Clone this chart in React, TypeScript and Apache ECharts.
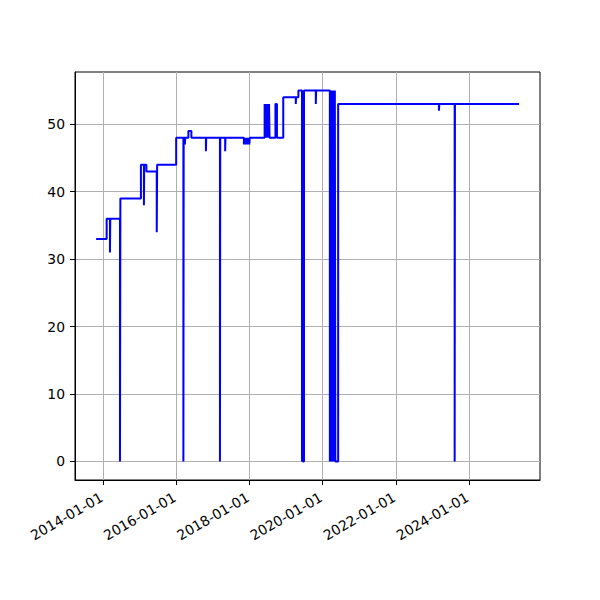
import React, { useEffect, useRef } from "react";
import * as echarts from "echarts";

// change points of the series (value holds until the next date)
const dates: string[] = [
  "2013-10-22", "2014-02-04", "2014-03-09", "2014-03-12", "2014-06-17", "2014-06-21",
  "2015-01-12", "2015-02-11", "2015-02-14", "2015-03-08", "2015-06-19", "2015-06-23",
  "2015-12-30", "2016-03-11", "2016-03-14", "2016-03-26", "2016-03-29", "2016-04-30",
  "2016-05-30", "2016-10-22", "2016-10-25", "2017-03-11", "2017-03-14", "2017-05-02",
  "2017-05-05",
  "2017-11-05", "2017-11-10", "2017-11-14", "2017-11-19", "2017-11-23", "2017-11-28",
  "2017-12-02", "2017-12-07", "2017-12-11", "2017-12-16", "2017-12-20", "2017-12-25",
  "2017-12-29", "2018-01-03",
  "2018-05-31", "2018-06-04", "2018-06-08", "2018-06-13", "2018-06-17", "2018-06-22",
  "2018-06-26", "2018-07-01", "2018-07-05", "2018-07-10", "2018-07-14", "2018-07-19",
  "2018-09-16", "2018-10-01", "2018-12-03", "2019-04-07", "2019-04-10", "2019-05-03",
  "2019-06-08", "2019-06-12", "2019-06-16", "2019-06-28", "2019-10-24", "2019-10-27",
  "2020-03-12", "2020-03-16", "2020-03-21", "2020-03-25", "2020-03-30", "2020-04-04",
  "2020-04-09", "2020-04-13", "2020-04-18", "2020-04-22", "2020-04-27", "2020-05-01",
  "2020-05-06", "2020-06-03", "2023-03-06", "2023-03-10", "2023-08-10", "2023-08-13",
  "2025-05-14",
];
const values: number[] = [
  33, 36, 31, 36, 0, 39,
  44, 38, 44, 43, 34, 44,
  48, 0, 48, 47, 48, 49,
  48, 46, 48, 0, 48, 46,
  48,
  47, 48, 47, 48, 47, 48,
  47, 48, 47, 48, 47, 48,
  47, 48,
  53, 48, 53, 48, 53, 48,
  53, 48, 53, 48, 53, 48,
  53, 48, 54, 53, 54, 55,
  0, 55, 0, 55, 53, 55,
  0, 55, 0, 55, 0, 55,
  0, 55, 0, 55, 0, 55,
  0, 53, 52, 53, 0, 53,
  53,
];

const xTickLabels: string[] = [
  "2014-01-01", "2016-01-01", "2018-01-01", "2020-01-01", "2022-01-01", "2024-01-01",
];
const yTickValues: number[] = [0, 10, 20, 30, 40, 50];

const DAY = 86400000;
const YEAR = 365.25 * DAY;
const BASE = Date.UTC(2014, 0, 1);
const toYears = (s: string) => {
  const [y, m, d] = s.split("-").map(Number);
  return (Date.UTC(y, m - 1, d) - BASE) / YEAR;
};

export default function App() {
  const ref = useRef<HTMLDivElement>(null);
  useEffect(() => {
    if (!ref.current) return;
    const chart = echarts.init(ref.current, undefined, { renderer: "svg" });
    const data = dates.map((d, i) => [toYears(d), values[i]]);
    const xTickValues = xTickLabels.map((l) => toYears(l));
    const font = { fontFamily: "DejaVu Sans", fontSize: 13.9, color: "#000" };
    chart.setOption({
      animation: false,
      backgroundColor: "#fff",
      grid: {
        left: 75,
        right: 60,
        top: 72,
        bottom: 120,
        show: true,
        borderColor: "#000",
        borderWidth: 1,
        containLabel: false,
        outerBoundsMode: "none",
      },
      xAxis: {
        type: "value",
        min: -282 / 365.25,
        max: 4360 / 365.25,
        splitNumber: 6,
        axisLine: { show: true, onZero: false, lineStyle: { color: "#000", width: 1 } },
        axisTick: {
          show: true,
          length: 5,
          customValues: xTickValues,
          lineStyle: { color: "#000", width: 1 },
        },
        axisLabel: {
          ...font,
          rotate: 30,
          margin: 15,
          padding: [0, 2, 0, 0],
          customValues: xTickValues,
          formatter: (v: number) => {
            const i = xTickValues.findIndex((t) => Math.abs(t - v) < 1e-6);
            return i >= 0 ? xTickLabels[i] : "";
          },
        },
        splitLine: { show: true, lineStyle: { color: "#b0b0b0", width: 1 } },
      },
      yAxis: {
        type: "value",
        min: -2.75,
        max: 57.75,
        splitNumber: 6,
        axisLine: { show: true, onZero: false, lineStyle: { color: "#000", width: 1 } },
        axisTick: {
          show: true,
          length: 5,
          customValues: yTickValues,
          lineStyle: { color: "#000", width: 1 },
        },
        axisLabel: {
          ...font,
          margin: 10,
          customValues: yTickValues,
        },
        splitLine: { show: true, lineStyle: { color: "#b0b0b0", width: 1 } },
      },
      series: [
        {
          type: "line",
          step: "end",
          data,
          showSymbol: false,
          symbol: "none",
          lineStyle: { color: "#0000ff", width: 2 },
          itemStyle: { color: "#0000ff" },
          clip: true,
        },
      ],
    });
    return () => chart.dispose();
  }, []);
  return (
    <div
      ref={ref}
      style={{ position: "absolute", left: 0, top: 0, width: 600, height: 600 }}
    />
  );
}
